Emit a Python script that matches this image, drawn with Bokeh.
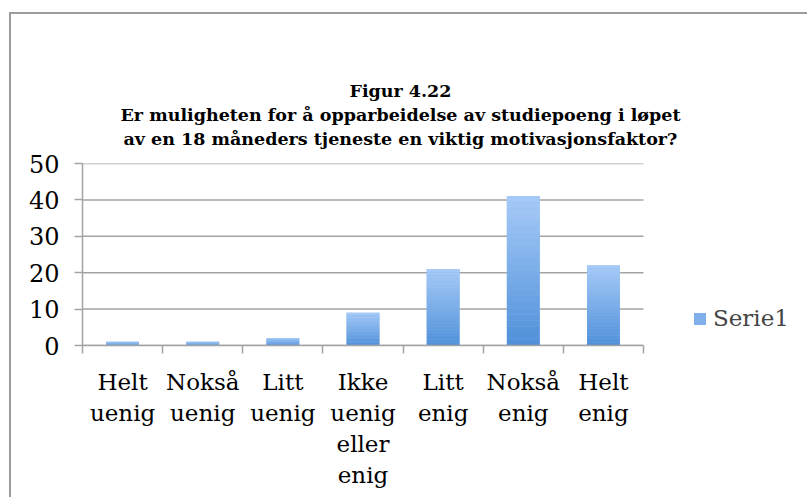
from bokeh.plotting import figure
from bokeh.models import (Range1d, FixedTicker, Title, Legend, LegendItem,
                          ColumnDataSource)
from bokeh.embed import file_html
from bokeh.resources import INLINE

# ---- data ----
categories = ["Helt\nuenig", "Nokså\nuenig", "Litt\nuenig", "Ikke\nuenig\neller\nenig",
              "Litt\nenig", "Nokså\nenig", "Helt\nenig"]
values = [1, 1, 2, 9, 21, 41, 22]
series_name = "Serie1"
y_ticks = [0, 10, 20, 30, 40, 50]
title_lines = ["Figur 4.22",
               "Er muligheten for å opparbeidelse av studiepoeng i løpet",
               "av en 18 måneders tjeneste en viktig motivasjonsfaktor?"]
title_offsets = [267, 38, 41]   # left offsets (px) that centre each line

FONT = "DejaVu Serif"
GRID = "#a3a3a3"
TOP_C = (0xa8, 0xcb, 0xf8)
BOT_C = (0x4f, 0x90, 0xd9)

W, H = 798, 485
LEFT, TOP, BOTTOM = 71, 149, 154
PLOT_W = 561          # width of the category area
FRAME_W = W - LEFT    # frame reaches the right edge (legend lives inside)

n = len(categories)
xs = [i + 0.5 for i in range(n)]

p = figure(width=W, height=H, output_backend="svg", toolbar_location=None,
           x_range=Range1d(0, n * FRAME_W / PLOT_W), y_range=Range1d(0, 50),
           min_border_left=LEFT, min_border_right=0, min_border_top=TOP,
           min_border_bottom=BOTTOM, title=None,
           styles={"margin-left": "9px", "margin-top": "12px",
                   "border-left": "2px solid #9c9c9c",
                   "border-top": "2px solid #9c9c9c"})
p.outline_line_color = None
p.background_fill_color = "white"
p.border_fill_color = "white"

# main bars (solid, used for legend)
src = ColumnDataSource(dict(x=xs, top=values))
main = p.vbar(x="x", top="top", bottom=0, width=0.41, source=src,
              fill_color="#7fb0ea", line_color=None)

# gradient overlay per bar
N = 24
gx, gb, gt, gc = [], [], [], []
for x, v in zip(xs, values):
    for k in range(N):
        f0, f1 = k / N, (k + 1) / N
        t = (k + 0.5) / N
        c = tuple(int(round(BOT_C[j] + (TOP_C[j] - BOT_C[j]) * t)) for j in range(3))
        gx.append(x); gb.append(v * f0); gt.append(v * f1)
        gc.append("#%02x%02x%02x" % c)
p.vbar(x=gx, bottom=gb, top=gt, width=0.41, fill_color=gc, line_color=None)

# axes
xa = p.xaxis[0]
xa.bounds = (0, n)
xa.ticker = FixedTicker(ticks=xs, minor_ticks=list(range(n + 1)))
xa.major_label_overrides = {x: c for x, c in zip(xs, categories)}
xa.major_tick_out = 0
xa.major_tick_in = 0
xa.minor_tick_out = 8
xa.minor_tick_in = 0
xa.minor_tick_line_color = GRID
xa.minor_tick_line_width = 1.5
xa.axis_line_color = GRID
xa.axis_line_width = 1.5
xa.major_label_text_font = FONT
xa.major_label_text_font_size = "23px"
xa.major_label_text_color = "black"
xa.major_label_standoff = 15

ya = p.yaxis[0]
ya.ticker = FixedTicker(ticks=y_ticks)
ya.minor_tick_line_color = None
ya.major_tick_out = 8
ya.major_tick_in = 0
ya.major_tick_line_color = GRID
ya.major_tick_line_width = 1.5
ya.axis_line_color = GRID
ya.axis_line_width = 1.5
ya.major_label_text_font = FONT
ya.major_label_text_font_size = "24px"
ya.major_label_text_color = "black"
ya.major_label_standoff = 15

p.xgrid.grid_line_color = None
p.ygrid.grid_line_color = None
# horizontal gridlines limited to the category area
p.segment(x0=[0] * len(y_ticks), x1=[n] * len(y_ticks), y0=y_ticks, y1=y_ticks,
          line_color=GRID, line_width=1.5, level="underlay")

# spacer between title block and frame
p.add_layout(Title(text=" ", text_font_size="10.5px", standoff=0), "above")
# titles (added bottom line first: later ones go farther from the frame)
for line, off, so in reversed(list(zip(title_lines, title_offsets, [2, 2, 2]))):
    t = Title(text=line, align="left", text_font=FONT, text_font_size="17.5px",
              text_font_style="bold", text_color="black", offset=off,
              standoff=so)
    p.add_layout(t, "above")

legend = Legend(items=[LegendItem(label=series_name, renderers=[main])],
                location=(610, 14), orientation="vertical",
                border_line_color=None, background_fill_alpha=0,
                padding=0, margin=0, glyph_width=15, glyph_height=15,
                label_height=15, label_standoff=6,
                label_text_font=FONT, label_text_font_size="23px",
                label_text_baseline="middle")
p.add_layout(legend, "center")

open("out.html", "w").write(file_html(p, INLINE))
